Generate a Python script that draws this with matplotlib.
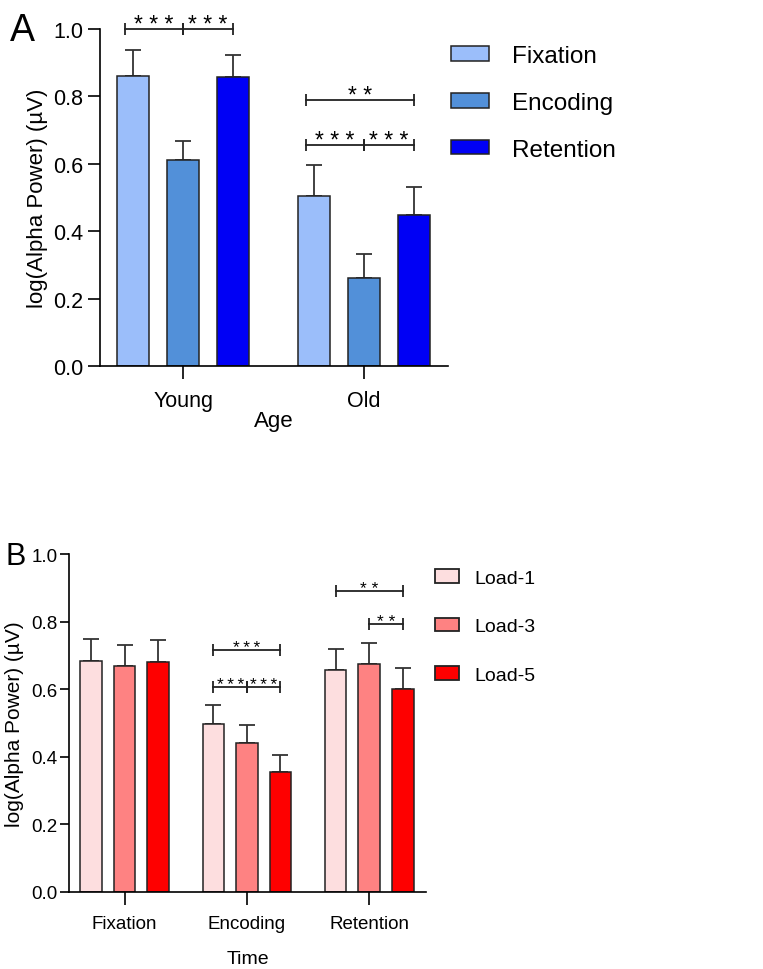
import matplotlib
matplotlib.use("Agg")
import matplotlib.pyplot as plt
from matplotlib.patches import Patch
import numpy as np

# ---- data: panel A (age x phase) ----
ages = ["Young", "Old"]
phases = ["Fixation", "Encoding", "Retention"]
a_means = {"Fixation": [0.862, 0.505],
           "Encoding": [0.612, 0.263],
           "Retention": [0.857, 0.448]}
a_upper = {"Fixation": [0.939, 0.596],
           "Encoding": [0.667, 0.333],
           "Retention": [0.924, 0.532]}

# ---- data: panel B (time x load) ----
times = ["Fixation", "Encoding", "Retention"]
loads = ["Load-1", "Load-3", "Load-5"]
b_means = {"Load-1": [0.684, 0.498, 0.658],
           "Load-3": [0.667, 0.441, 0.675],
           "Load-5": [0.681, 0.354, 0.599]}
b_upper = {"Load-1": [0.749, 0.553, 0.720],
           "Load-3": [0.731, 0.494, 0.737],
           "Load-5": [0.745, 0.404, 0.663]}

# significance brackets: (group, bar_from, bar_to, y, label)
a_sig = [(0, 0, 1, 1.0, "* * *"), (0, 1, 2, 1.0, "* * *"),
         (1, 0, 2, 0.79, "* *"), (1, 0, 1, 0.657, "* * *"),
         (1, 1, 2, 0.657, "* * *")]
b_sig = [(1, 0, 2, 0.717, "*\u2009*\u2009*"), (1, 0, 1, 0.607, "*\u2009*\u2009*"),
         (1, 1, 2, 0.607, "*\u2009*\u2009*"), (2, 0, 2, 0.892, "* *"),
         (2, 1, 2, 0.793, "* *")]

a_colors = ["#9bbefa", "#5290d9", "#0000f5"]
b_colors = ["#fddedf", "#fe8282", "#fe0000"]

SANS = ["Liberation Sans", "DejaVu Sans"]

fig = plt.figure(figsize=(7.63, 9.70), dpi=100)
axA = fig.add_axes([0.1311, 0.6213, 0.4561, 0.3478])
axB = fig.add_axes([0.0904, 0.0797, 0.4679, 0.3481])


def draw_bars(ax, groups, series, means, upper, colors, off, width, cap):
    x = np.arange(len(groups))
    for i, s in enumerate(series):
        xs = x + (i - 1) * off
        m = np.array(means[s])
        u = np.array(upper[s])
        ax.bar(xs, m, width=width, color=colors[i], edgecolor="#222222",
               linewidth=1.1, label=s, zorder=2)
        ax.errorbar(xs, m, yerr=[np.zeros_like(m), u - m], fmt="none",
                    ecolor="#333333", elinewidth=1.3, capsize=cap,
                    capthick=1.3, zorder=1)


def draw_sig(ax, sig, off, fs, dy, spread=0.0):
    for g, b0, b1, y, lab in sig:
        x0 = g + (b0 - 1) * off - (spread if b0 == 0 else 0)
        x1 = g + (b1 - 1) * off
        ax.plot([x0, x1], [y, y], color="#222222", lw=1.3, clip_on=False)
        ax.plot([x0, x1], [y, y], ls="none", marker="|", markersize=8,
                markeredgewidth=1.3, color="#222222", clip_on=False)
        ax.annotate(lab, xy=((x0 + x1) / 2, y), xytext=(0, dy),
                    textcoords="offset points", ha="center", va="baseline",
                    fontsize=fs, family=SANS)


def style(ax, fs):
    ax.spines["top"].set_visible(False)
    ax.spines["right"].set_visible(False)
    for sp in ("left", "bottom"):
        ax.spines[sp].set_linewidth(1.2)
    ax.set_ylim(0, 1.0)
    ax.set_yticks([0, 0.2, 0.4, 0.6, 0.8, 1.0])
    ax.set_yticklabels(["0.0", "0.2", "0.4", "0.6", "0.8", "1.0"])
    for lab in ax.get_xticklabels() + ax.get_yticklabels():
        lab.set_family(SANS)
        lab.set_fontsize(fs)


# ---- panel A ----
offA = 0.276
draw_bars(axA, ages, phases, a_means, a_upper, a_colors, offA, 0.177, 6)
axA.set_xlim(-0.459, 1.464)
axA.set_xticks(range(len(ages)))
axA.set_xticklabels(ages)
style(axA, 15.5)
axA.tick_params(axis="both", length=9, width=1.2)
axA.tick_params(axis="x", pad=8)
axA.tick_params(axis="y", pad=3)
axA.set_ylabel("log(Alpha Power) (µV)", family=SANS, fontsize=16)
axA.yaxis.set_label_coords(-0.15, 0.5)
axA.set_xlabel("Age", family=SANS, fontsize=16, va="top")
axA.xaxis.set_label_coords(0.5, -0.128)
draw_sig(axA, a_sig, offA, 16.5, -1.5, spread=0.045)
axA.legend(handles=[Patch(facecolor=c, edgecolor="#222222", linewidth=1.1)
                    for c in a_colors], labels=phases,
           loc="upper left", bbox_to_anchor=(451 / 763, 1 - 46 / 970),
           bbox_transform=fig.transFigure, frameon=False, borderpad=0,
           borderaxespad=0, handlelength=1.55, handleheight=0.55,
           handletextpad=0.95, labelspacing=1.02,
           prop={"family": SANS, "size": 17.5})
fig.text(10 / 763, 1 - 13 / 970, "A", family=SANS, fontsize=27,
         ha="left", va="top")

# ---- panel B ----
offB = 0.274
draw_bars(axB, times, loads, b_means, b_upper, b_colors, offB, 0.176, 5.5)
axB.set_xlim(-0.455, 2.464)
axB.set_xticks(range(len(times)))
axB.set_xticklabels(times)
style(axB, 13.5)
axB.tick_params(axis="x", length=9, width=1.2, pad=8)
axB.tick_params(axis="y", length=6.5, width=1.2, pad=1.5)
axB.set_ylabel("log(Alpha Power) (µV)", family=SANS, fontsize=15)
axB.yaxis.set_label_coords(-0.125, 0.5)
axB.set_xlabel("Time", family=SANS, fontsize=14, va="top")
axB.xaxis.set_label_coords(0.5, -0.172)
draw_sig(axB, b_sig, offB, 12.5, -1.5)
axB.legend(handles=[Patch(facecolor=c, edgecolor="#222222", linewidth=1.3)
                    for c in b_colors], labels=loads,
           loc="upper left", bbox_to_anchor=(435 / 763, 1 - 570 / 970),
           bbox_transform=fig.transFigure, frameon=False, borderpad=0,
           borderaxespad=0, handlelength=1.25, handleheight=0.7,
           handletextpad=0.75, labelspacing=1.6,
           prop={"family": SANS, "size": 14})
fig.text(5 / 763, 1 - 542 / 970, "B", family=SANS, fontsize=22,
         ha="left", va="top")

fig.savefig("out.png", dpi=100)
